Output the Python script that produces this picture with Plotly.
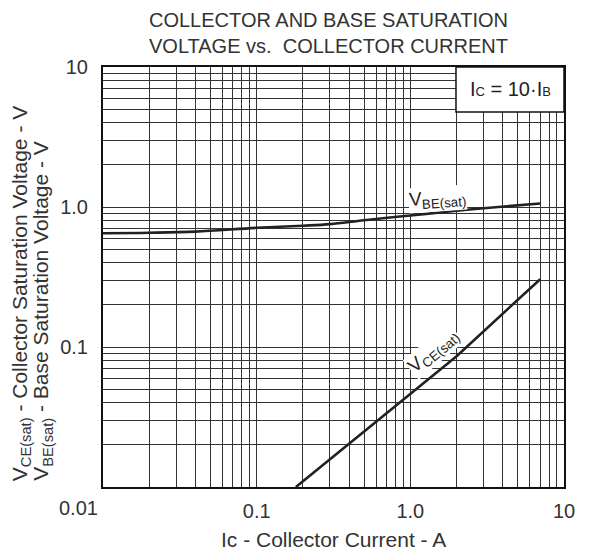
import plotly.graph_objects as go

# ---- data ----
ic_vbe = [0.01, 0.02, 0.04, 0.1, 0.2, 0.3, 0.5, 1.0, 2.0, 3.0, 7.0]
vbe_sat = [0.65, 0.655, 0.667, 0.71, 0.735, 0.755, 0.805, 0.87, 0.94, 0.98, 1.06]

ic_vce = [0.18, 0.4, 1.0, 2.0, 7.0]
vce_sat = [0.01, 0.0205, 0.046, 0.086, 0.305]

decades = [0.01, 0.1, 1.0]
digits = [1, 2, 3, 4, 5, 6, 7, 8, 9]
x_major_labels = {0.1: "0.1", 1.0: "1.0", 10.0: "10"}
y_major_labels = {0.1: "0.1", 1.0: "1.0", 10.0: "10"}

# grid values (1..9 per decade)
grid_vals = [round(d * k, 6) for d in decades for k in digits] + [10.0]
x_text = [x_major_labels.get(v, "") for v in grid_vals]
y_text = [y_major_labels.get(v, "") for v in grid_vals]

FONT = "Liberation Sans, Arial, Helvetica, sans-serif"
INK = "#222222"
TXT = "#333333"

fig = go.Figure()
fig.add_trace(go.Scatter(x=ic_vbe, y=vbe_sat, mode="lines",
                         line=dict(color=INK, width=2.6, shape="spline"),
                         hoverinfo="skip", showlegend=False))
fig.add_trace(go.Scatter(x=ic_vce, y=vce_sat, mode="lines",
                         line=dict(color=INK, width=2.6),
                         hoverinfo="skip", showlegend=False))

axis_common = dict(
    type="log", showgrid=True, gridcolor="#333333", gridwidth=1.2,
    showline=True, linecolor="#111111", linewidth=2, mirror=True,
    ticks="", zeroline=False, tickmode="array",
    tickfont=dict(family=FONT, size=20, color=TXT),
)
fig.update_xaxes(range=[-2, 1], tickvals=grid_vals, ticktext=x_text,
                 ticklabelstandoff=5, **axis_common)
fig.update_yaxes(range=[-2, 1], tickvals=grid_vals, ticktext=y_text,
                 ticklabelstandoff=9, **axis_common)

# condition box
fig.add_shape(type="rect", xref="paper", yref="paper",
              x0=0.7657, x1=1.0, y0=0.893, y1=1.0,
              fillcolor="white", line=dict(color="#111111", width=1.5),
              layer="above")

anns = [
    dict(xref="paper", yref="paper", x=0.885, y=0.947,
         xanchor="center", yanchor="middle",
         text="I<span style='font-size:13px'>C</span> = 10·I<span style='font-size:13px'>B</span>",
         font=dict(family=FONT, size=20, color=INK), showarrow=False),
    dict(xref="x", yref="y", x=0.178, y=0.056,
         xanchor="center", yanchor="middle",
         text="V<sub>BE(sat)</sub>", textangle=-4,
         font=dict(family=FONT, size=19, color=INK), showarrow=False,
         bgcolor="white", borderpad=0),
    dict(xref="x", yref="y", x=0.15, y=-1.025,
         xanchor="center", yanchor="middle",
         text="V<sub>CE(sat)</sub>", textangle=-40,
         font=dict(family=FONT, size=19, color=INK), showarrow=False,
         bgcolor="white", borderpad=0),
    dict(xref="paper", yref="paper", x=-0.0065, y=-0.05,
         xanchor="right", yanchor="middle", text="0.01",
         font=dict(family=FONT, size=20, color=TXT), showarrow=False),
    dict(xref="paper", yref="paper", x=0.5, y=-0.126,
         xanchor="center", yanchor="middle",
         text="Ic - Collector Current - A",
         font=dict(family=FONT, size=21, color=TXT), showarrow=False),
    dict(xref="paper", yref="paper", x=-0.178, y=0.01,
         xanchor="center", yanchor="bottom", textangle=-90,
         text="V<sub>CE(sat)</sub> - Collector Saturation Voltage - V",
         font=dict(family=FONT, size=21, color=TXT), showarrow=False),
    dict(xref="paper", yref="paper", x=-0.1323, y=0.01,
         xanchor="center", yanchor="bottom", textangle=-90,
         text="V<sub>BE(sat)</sub> - Base Saturation Voltage - V",
         font=dict(family=FONT, size=21, color=TXT), showarrow=False),
    dict(xref="paper", yref="paper", x=0.49, y=1.0, yshift=8,
         xanchor="center", yanchor="bottom", align="center",
         text="COLLECTOR AND BASE SATURATION<br>VOLTAGE vs.  COLLECTOR CURRENT",
         font=dict(family=FONT, size=20, color=TXT), showarrow=False),
]
for a in anns:
    fig.add_annotation(**a)

# the page body keeps an 8px margin, so the figure is 8px smaller each way
fig.update_layout(
    width=590, height=544,
    margin=dict(l=95, r=34, t=59, b=65),
    paper_bgcolor="white", plot_bgcolor="white",
    showlegend=False,
)

fig.write_html("out.html")
